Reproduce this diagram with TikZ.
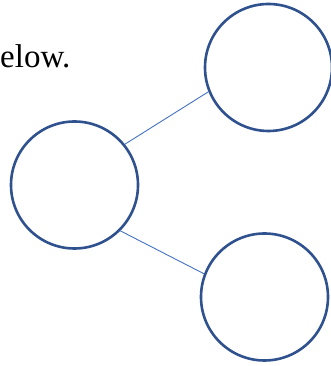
\documentclass[tikz,border=0pt]{standalone}
\usepackage{fontspec}
\setmainfont{Liberation Serif}
\definecolor{ringblue}{HTML}{2F528F}
\definecolor{linkblue}{HTML}{4472C4}
\begin{document}
\begin{tikzpicture}[x=1pt,y=1pt,
  ring/.style={circle,draw=ringblue,line width=2.6pt,minimum size=127pt,inner sep=0pt},
  link/.style={draw=linkblue,line width=0.9pt}]
\useasboundingbox (0,0) rectangle (331,366);
\node[anchor=base west,inner sep=0pt,font=\fontsize{33}{40}\selectfont] (txt) at (0,298) {elow.};
\node[ring] (a) at (74.5,181) {};
\node[ring] (b) at (268.5,298.5) {};
\node[ring] (c) at (264.5,69) {};
\draw[link] (a.39) -- (b.202);
\draw[link] (a.-45) -- (c.159.6);
\end{tikzpicture}
\end{document}
